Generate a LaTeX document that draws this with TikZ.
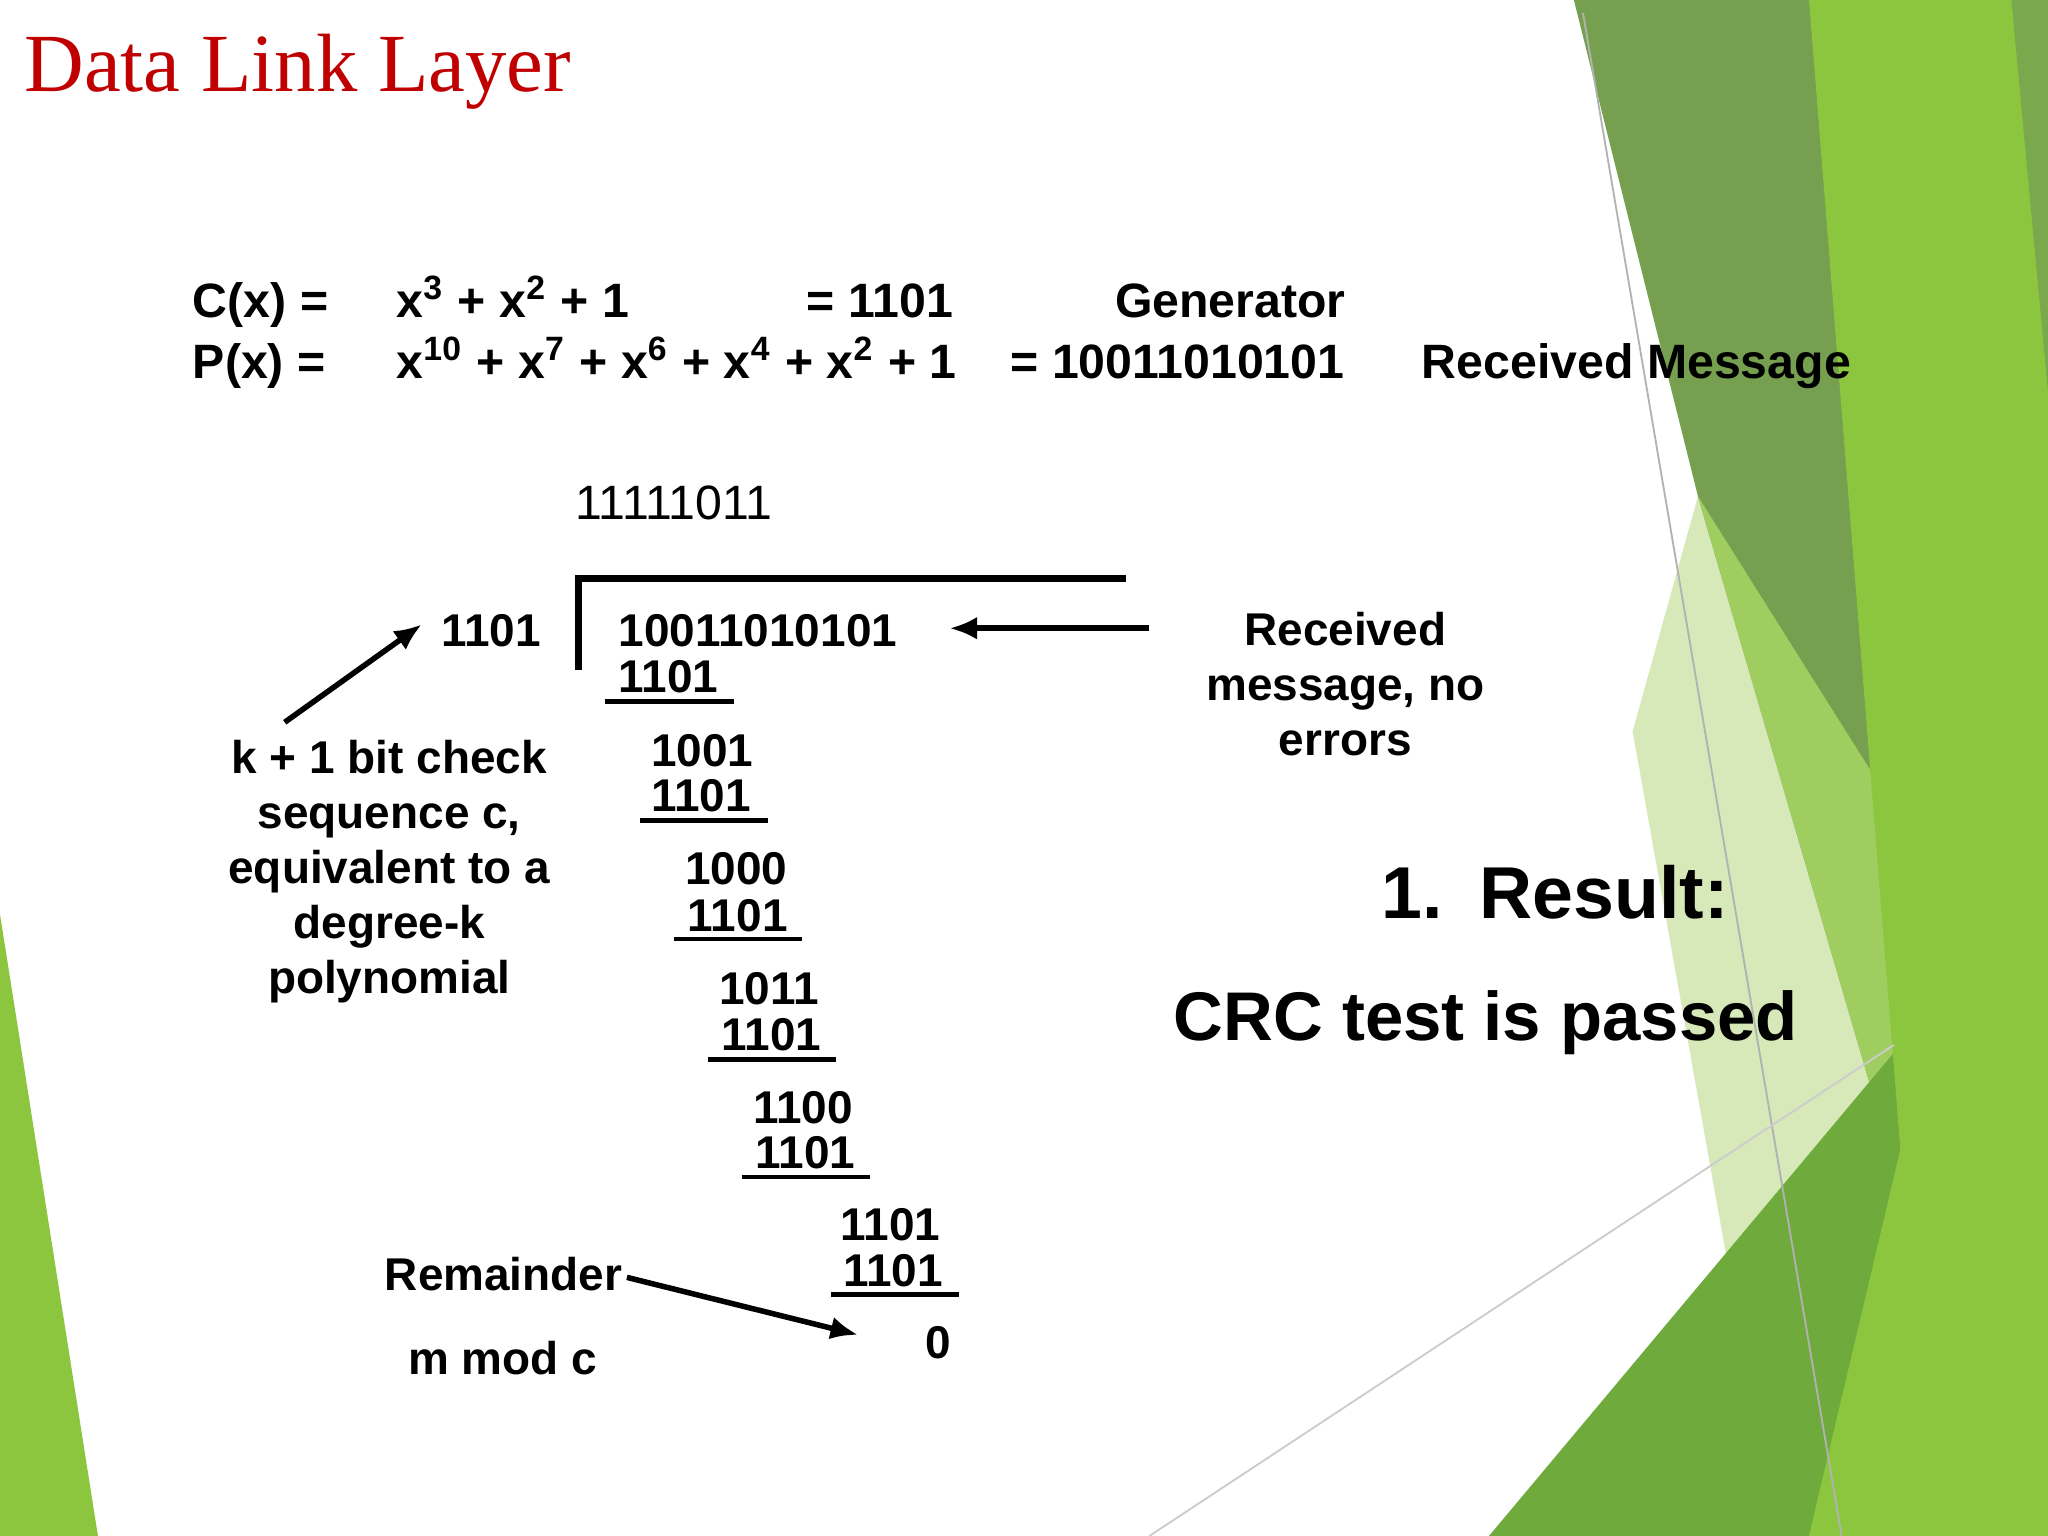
\documentclass[tikz,border=0pt]{standalone}
\usepackage{fontspec}
\setmainfont{Liberation Sans}
\newfontfamily\titlefont{Liberation Serif}
\usetikzlibrary{arrows.meta}
\definecolor{titlered}{RGB}{192,0,0}
\definecolor{olivegr}{RGB}{118,160,79}
\definecolor{brightgr}{RGB}{140,198,63}
\definecolor{midgr}{RGB}{160,205,95}
\definecolor{palegr}{RGB}{215,232,185}
\definecolor{darkgr}{RGB}{110,170,60}
\tikzset{
  txt/.style={anchor=base west,inner sep=0pt,font=\fontsize{10.5pt}{13pt}\selectfont\bfseries},
  num/.style={anchor=base west,inner sep=0pt,font=\fontsize{10pt}{12pt}\selectfont\bfseries},
  blk/.style={align=center,inner sep=0pt,font=\fontsize{10pt}{12pt}\selectfont\bfseries},
  rule/.style={line width=1pt},
  arr/.style={line width=1.2pt,-{Latex[length=6pt,width=5pt]}}
}
\begin{document}
\begin{tikzpicture}[x=0.01cm,y=-0.01cm]
\useasboundingbox (0,0) rectangle (1568,1176);
\fill[white] (0,0) rectangle (1568,1176);
% background shapes
\fill[palegr] (1300,380) -- (1455,910) -- (1420,1176) -- (1360,1176) -- (1250,560) -- cycle;
\fill[olivegr] (1205,0) -- (1400,0) -- (1455,910) -- (1300,380) -- cycle;
\fill[midgr] (1300,380) -- (1470,650) -- (1455,910) -- cycle;
\fill[darkgr] (1140,1176) -- (1455,800) -- (1455,1176) -- cycle;
\fill[brightgr] (1385,0) -- (1568,0) -- (1568,1176) -- (1385,1176) -- (1455,880) -- cycle;
\fill[olivegr!80!brightgr] (1540,0) -- (1568,0) -- (1568,300) -- cycle;
\fill[brightgr] (0,700) -- (75,1176) -- (0,1176) -- cycle;
\draw[gray!60,line width=0.4pt] (1212,10) -- (1410,1176);
\draw[gray!40,line width=0.4pt] (880,1176) -- (1450,800);
% title
\node[anchor=base west,inner sep=0pt,text=titlered,font=\titlefont\fontsize{18pt}{22pt}\selectfont] (title) at (18,70) {Data Link Layer};
% equations
\node[txt] (cx) at (147,243) {C(x) =};
\node[txt] (cpoly) at (303,243) {x\textsuperscript{3} + x\textsuperscript{2} + 1};
\node[txt] (cbin) at (617,243) {= 1101};
\node[txt] (gen) at (853,243) {Generator};
\node[txt] (px) at (147,290) {P(x) =};
\node[txt] (ppoly) at (303,290) {x\textsuperscript{10} + x\textsuperscript{7} + x\textsuperscript{6} + x\textsuperscript{4} + x\textsuperscript{2} + 1};
\node[txt] (pbin) at (773,290) {= 10011010101};
\node[txt] (recm) at (1088,290) {Received Message};
% division
\node[anchor=base west,inner sep=0pt,font=\fontsize{10.5pt}{13pt}\selectfont] (quot) at (440,398) {11111011};
\coordinate (b1) at (443,513); \coordinate (b2) at (443,443); \coordinate (b3) at (862,443);
\draw[line width=1.5pt] (b1) -- (b2) -- (b3);
\node[num] (div) at (337,495) {1101};
\node[num] (dvd) at (473,495) {10011010101};
\node[num] (s1) at (473,530) {1101};
\draw[rule] (463,537) -- (562,537);
\node[num] (r1) at (498,587) {1001};
\node[num] (s2) at (498,621) {1101};
\draw[rule] (490,628) -- (588,628);
\node[num] (r2) at (524,677) {1000};
\node[num] (s3) at (526,713) {1101};
\draw[rule] (516,719) -- (614,719);
\node[num] (r3) at (550,769) {1011};
\node[num] (s4) at (552,804) {1101};
\draw[rule] (542,811) -- (640,811);
\node[num] (r4) at (576,860) {1100};
\node[num] (s5) at (578,895) {1101};
\draw[rule] (568,901) -- (666,901);
\node[num] (r5) at (643,950) {1101};
\node[num] (s6) at (645,985) {1101};
\draw[rule] (636,991) -- (734,991);
\node[num] (zero) at (708,1040) {0};
% annotations
\coordinate (ra1) at (880,481); \coordinate (ra2) at (727,481);
\draw[arr] (ra1) -- (ra2);
\node[blk,anchor=north] (recv) at (1030,468) {Received\\message, no\\errors};
\node[blk,anchor=north] (kbit) at (298,566) {k + 1 bit check\\sequence c,\\equivalent to a\\degree-k\\polynomial};
\coordinate (ka1) at (218,553); \coordinate (ka2) at (323,478);
\draw[arr] (ka1) -- (ka2);
\node[num] (rem) at (294,988) {Remainder};
\node[num] (mmod) at (312,1052) {m mod c};
\coordinate (ma1) at (480,978); \coordinate (ma2) at (657,1022);
\draw[arr] (ma1) -- (ma2);
\node[anchor=base west,inner sep=0pt,font=\fontsize{16pt}{20pt}\selectfont\bfseries] (res) at (1057,703) {1.\hspace{0.5em}Result:};
\node[anchor=base west,inner sep=0pt,font=\fontsize{15pt}{20pt}\selectfont\bfseries] (crc) at (898,797) {CRC test is passed};
\end{tikzpicture}
\end{document}
